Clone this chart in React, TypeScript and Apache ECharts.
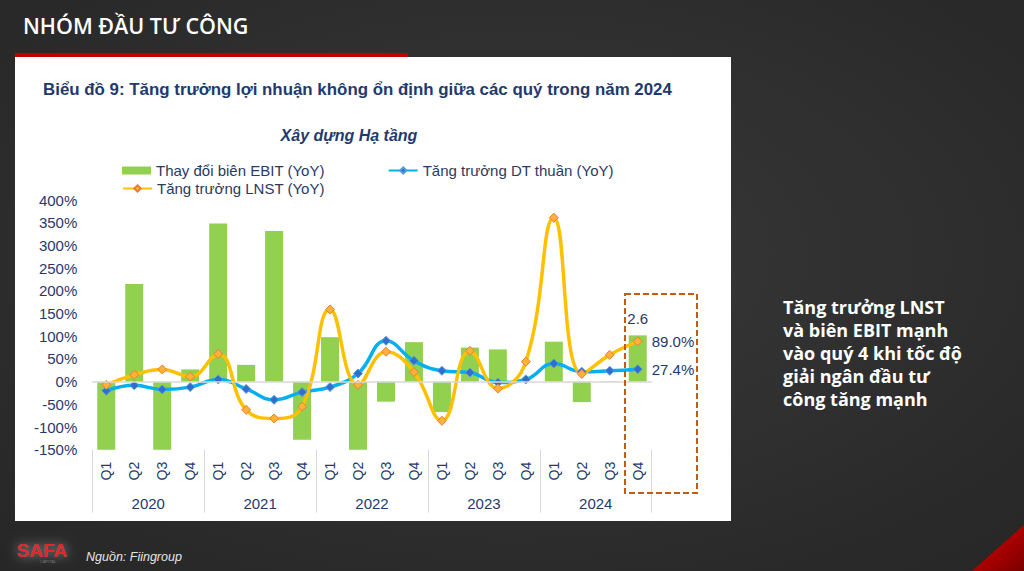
import React, { useEffect, useRef } from "react";
import * as echarts from "echarts";

const quarters = [
  "Q1", "Q2", "Q3", "Q4",
  "Q1", "Q2", "Q3", "Q4",
  "Q1", "Q2", "Q3", "Q4",
  "Q1", "Q2", "Q3", "Q4",
  "Q1", "Q2", "Q3", "Q4",
];
const years = ["2020", "2021", "2022", "2023", "2024"];

const ebitChange = [-150, 215, -150, 27, 348, 37, 332, -128, 98, -150, -44, 87, -67, 75, 71, 0, 88, -45, 1, 102];
const revenueGrowth = [-20, -8, -17, -12, 5, -16, -40, -23, -12, 18, 90, 46, 24, 20, -2, 5, 40, 22, 24, 27.4];
const profitGrowth = [-7, 15, 27, 11, 61, -62, -81, -55, 159, -7, 66, 21, -86, 68, -15, 44, 361, 17, 59, 89.0];

const ebitLastLabel = "2.6";

const yMin = -150;
const yMax = 400;
const yStep = 50;

const seriesNames = [
  "Thay đổi biên EBIT (YoY)",
  "Tăng trưởng DT thuần (YoY)",
  "Tăng trưởng LNST (YoY)",
];

const headerText = "NHÓM ĐẦU TƯ CÔNG";
const chartTitle = "Biểu đồ 9: Tăng trưởng lợi nhuận không ổn định giữa các quý trong năm 2024";
const chartSubtitle = "Xây dựng Hạ tầng";
const sideNote = "Tăng trưởng LNST\nvà biên EBIT mạnh\nvào quý 4 khi tốc độ\ngiải ngân đầu tư\ncông tăng mạnh";
const sourceText = "Nguồn: Fiingroup";

const NAVY = "#1f3a6e";

function fitScale(text: string, font: string, target: number): number {
  try {
    const c = document.createElement("canvas").getContext("2d");
    if (!c) return 1;
    c.font = font;
    const w = c.measureText(text).width;
    return w > 0 ? target / w : 1;
  } catch (e) {
    return 1;
  }
}

export default function App() {
  const ref = useRef<HTMLDivElement>(null);

  useEffect(() => {
    document.body.style.margin = "0";
    if (!ref.current) return;
    const chart = echarts.init(ref.current, undefined, { renderer: "svg" });

    const titleFont = 'bold 17px "Liberation Sans"';
    const titleScale = fitScale(chartTitle, titleFont, 629);

    const last = quarters.length - 1;

    const lastLabel = {
      show: true,
      position: "right",
      distance: 9,
      formatter: (p: any) => Number(p.value).toFixed(1) + "%",
      fontFamily: "Liberation Sans",
      fontSize: 15,
      color: NAVY,
    };

    const option: any = {
      animation: false,
      backgroundColor: "#2f2f2f",
      graphic: [
        {
          type: "rect",
          z: -20,
          silent: true,
          shape: { x: 0, y: 0, width: 1024, height: 571 },
          style: {
            fill: new echarts.graphic.RadialGradient(0.5, 0.45, 0.75, [
              { offset: 0, color: "#393939" },
              { offset: 1, color: "#262626" },
            ]),
          },
        },
        {
          type: "rect",
          z: -19,
          silent: true,
          shape: { x: 15, y: 53, width: 393, height: 4 },
          style: { fill: "#c00000" },
        },
        {
          type: "rect",
          z: -19,
          silent: true,
          shape: { x: 15, y: 57, width: 716, height: 464 },
          style: { fill: "#ffffff" },
        },
        {
          type: "text",
          z: 50,
          x: 23,
          y: 25,
          style: {
            text: headerText,
            fill: "#ffffff",
            font: '600 21.5px "Open Sans"',
            verticalAlign: "middle",
          },
        },
        {
          type: "text",
          z: 50,
          x: 43,
          y: 89,
          scaleX: titleScale,
          style: {
            text: chartTitle,
            fill: NAVY,
            font: titleFont,
            verticalAlign: "middle",
          },
        },
        {
          type: "text",
          z: 50,
          x: 349,
          y: 135,
          style: {
            text: chartSubtitle,
            fill: NAVY,
            font: 'italic bold 16px "Liberation Sans"',
            align: "center",
            verticalAlign: "middle",
          },
        },
        {
          type: "rect",
          z: 50,
          silent: true,
          shape: { x: 625, y: 294, width: 72, height: 199 },
          style: {
            fill: "none",
            stroke: "#c55a11",
            lineWidth: 2,
            lineDash: [6, 3],
          },
        },
        {
          type: "text",
          z: 50,
          x: 783,
          y: 295,
          style: {
            text: sideNote,
            fill: "#ffffff",
            font: 'bold 18px "Open Sans"',
            lineHeight: 23,
            verticalAlign: "top",
          },
        },
        {
          type: "text",
          z: 50,
          x: 86,
          y: 557,
          style: {
            text: sourceText,
            fill: "#e6e6e6",
            font: 'italic 12.5px "Liberation Sans"',
            verticalAlign: "middle",
          },
        },
        {
          type: "text",
          z: 50,
          x: 17,
          y: 550,
          style: {
            text: "SAFA",
            fill: "#e3262e",
            font: 'bold 19px "Liberation Sans"',
            verticalAlign: "middle",
            textShadowColor: "rgba(255,255,255,0.55)",
            textShadowBlur: 12,
          },
        },
        {
          type: "text",
          z: 50,
          x: 40,
          y: 561,
          style: {
            text: "CAPITAL",
            fill: "#777777",
            font: '4px "Liberation Sans"',
            verticalAlign: "middle",
          },
        },
        {
          type: "polygon",
          z: 50,
          silent: true,
          shape: { points: [[972, 571], [1024, 525], [1024, 571]] },
          style: {
            fill: new echarts.graphic.LinearGradient(0, 0, 1, 1, [
              { offset: 0, color: "#e00000" },
              { offset: 1, color: "#7a0000" },
            ]),
          },
        },
      ],
      legend: [
        {
          left: 117,
          top: 158,
          itemWidth: 29,
          itemHeight: 8,
          itemGap: 63,
          data: [{ name: seriesNames[0], icon: "rect" }, { name: seriesNames[1] }],
          textStyle: { fontFamily: "Liberation Sans", fontSize: 15, color: "#2b3a5f" },
        },
        {
          left: 117,
          top: 176,
          itemWidth: 29,
          itemHeight: 8,
          data: [{ name: seriesNames[2] }],
          textStyle: { fontFamily: "Liberation Sans", fontSize: 15, color: "#2b3a5f" },
        },
      ],
      grid: { left: 92.3, right: 372.3, top: 200, bottom: 121.2, containLabel: false },
      xAxis: [
        {
          type: "category",
          data: quarters,
          position: "bottom",
          offset: 0,
          axisLine: { show: false },
          axisTick: { show: false },
          axisLabel: {
            interval: 0,
            rotate: 90,
            margin: 12,
            fontFamily: "Liberation Sans",
            fontSize: 14,
            color: NAVY,
          },
          splitLine: { show: false },
        },
        {
          type: "category",
          data: years,
          position: "bottom",
          offset: 0,
          axisLine: { show: false },
          axisTick: {
            show: true,
            interval: 0,
            length: 63,
            lineStyle: { color: "#d9d9d9", width: 1 },
          },
          axisLabel: {
            interval: 0,
            margin: 46,
            fontFamily: "Liberation Sans",
            fontSize: 15,
            color: NAVY,
          },
          splitLine: { show: false },
        },
      ],
      yAxis: {
        type: "value",
        min: yMin,
        max: yMax,
        interval: yStep,
        axisLine: { show: false },
        axisTick: { show: false },
        splitLine: { show: false },
        axisLabel: {
          formatter: "{value}%",
          margin: 15,
          fontFamily: "Liberation Sans",
          fontSize: 15,
          color: NAVY,
        },
      },
      series: [
        {
          name: seriesNames[0],
          type: "bar",
          xAxisIndex: 0,
          barWidth: 18,
          itemStyle: { color: "#92d050" },
          data: ebitChange.map((v, i) =>
            i === last
              ? {
                  value: v,
                  label: {
                    show: true,
                    position: "top",
                    distance: 9,
                    formatter: ebitLastLabel,
                    fontFamily: "Liberation Sans",
                    fontSize: 15,
                    color: NAVY,
                  },
                }
              : v
          ),
          markLine: {
            silent: true,
            symbol: ["none", "none"],
            label: { show: false },
            lineStyle: { color: "#d9d9d9", type: "solid", width: 1.5 },
            data: [{ yAxis: 0 }],
          },
        },
        {
          name: seriesNames[1],
          type: "line",
          xAxisIndex: 0,
          smooth: 0.45,
          symbol: "diamond",
          symbolSize: 9,
          lineStyle: { color: "#00b0f0", width: 3.5 },
          itemStyle: { color: "#2f6fd0", borderColor: "#5b9bd5", borderWidth: 1 },
          data: revenueGrowth.map((v, i) => (i === last ? { value: v, label: lastLabel } : v)),
        },
        {
          name: seriesNames[2],
          type: "line",
          xAxisIndex: 0,
          smooth: 0.45,
          symbol: "diamond",
          symbolSize: 9,
          lineStyle: { color: "#ffc000", width: 3.5 },
          itemStyle: { color: "#ffb13b", borderColor: "#ed7d31", borderWidth: 1 },
          data: profitGrowth.map((v, i) => (i === last ? { value: v, label: lastLabel } : v)),
        },
      ],
    };

    chart.setOption(option);
    return () => {
      chart.dispose();
    };
  }, []);

  return <div ref={ref} style={{ width: 1024, height: 571 }} />;
}
